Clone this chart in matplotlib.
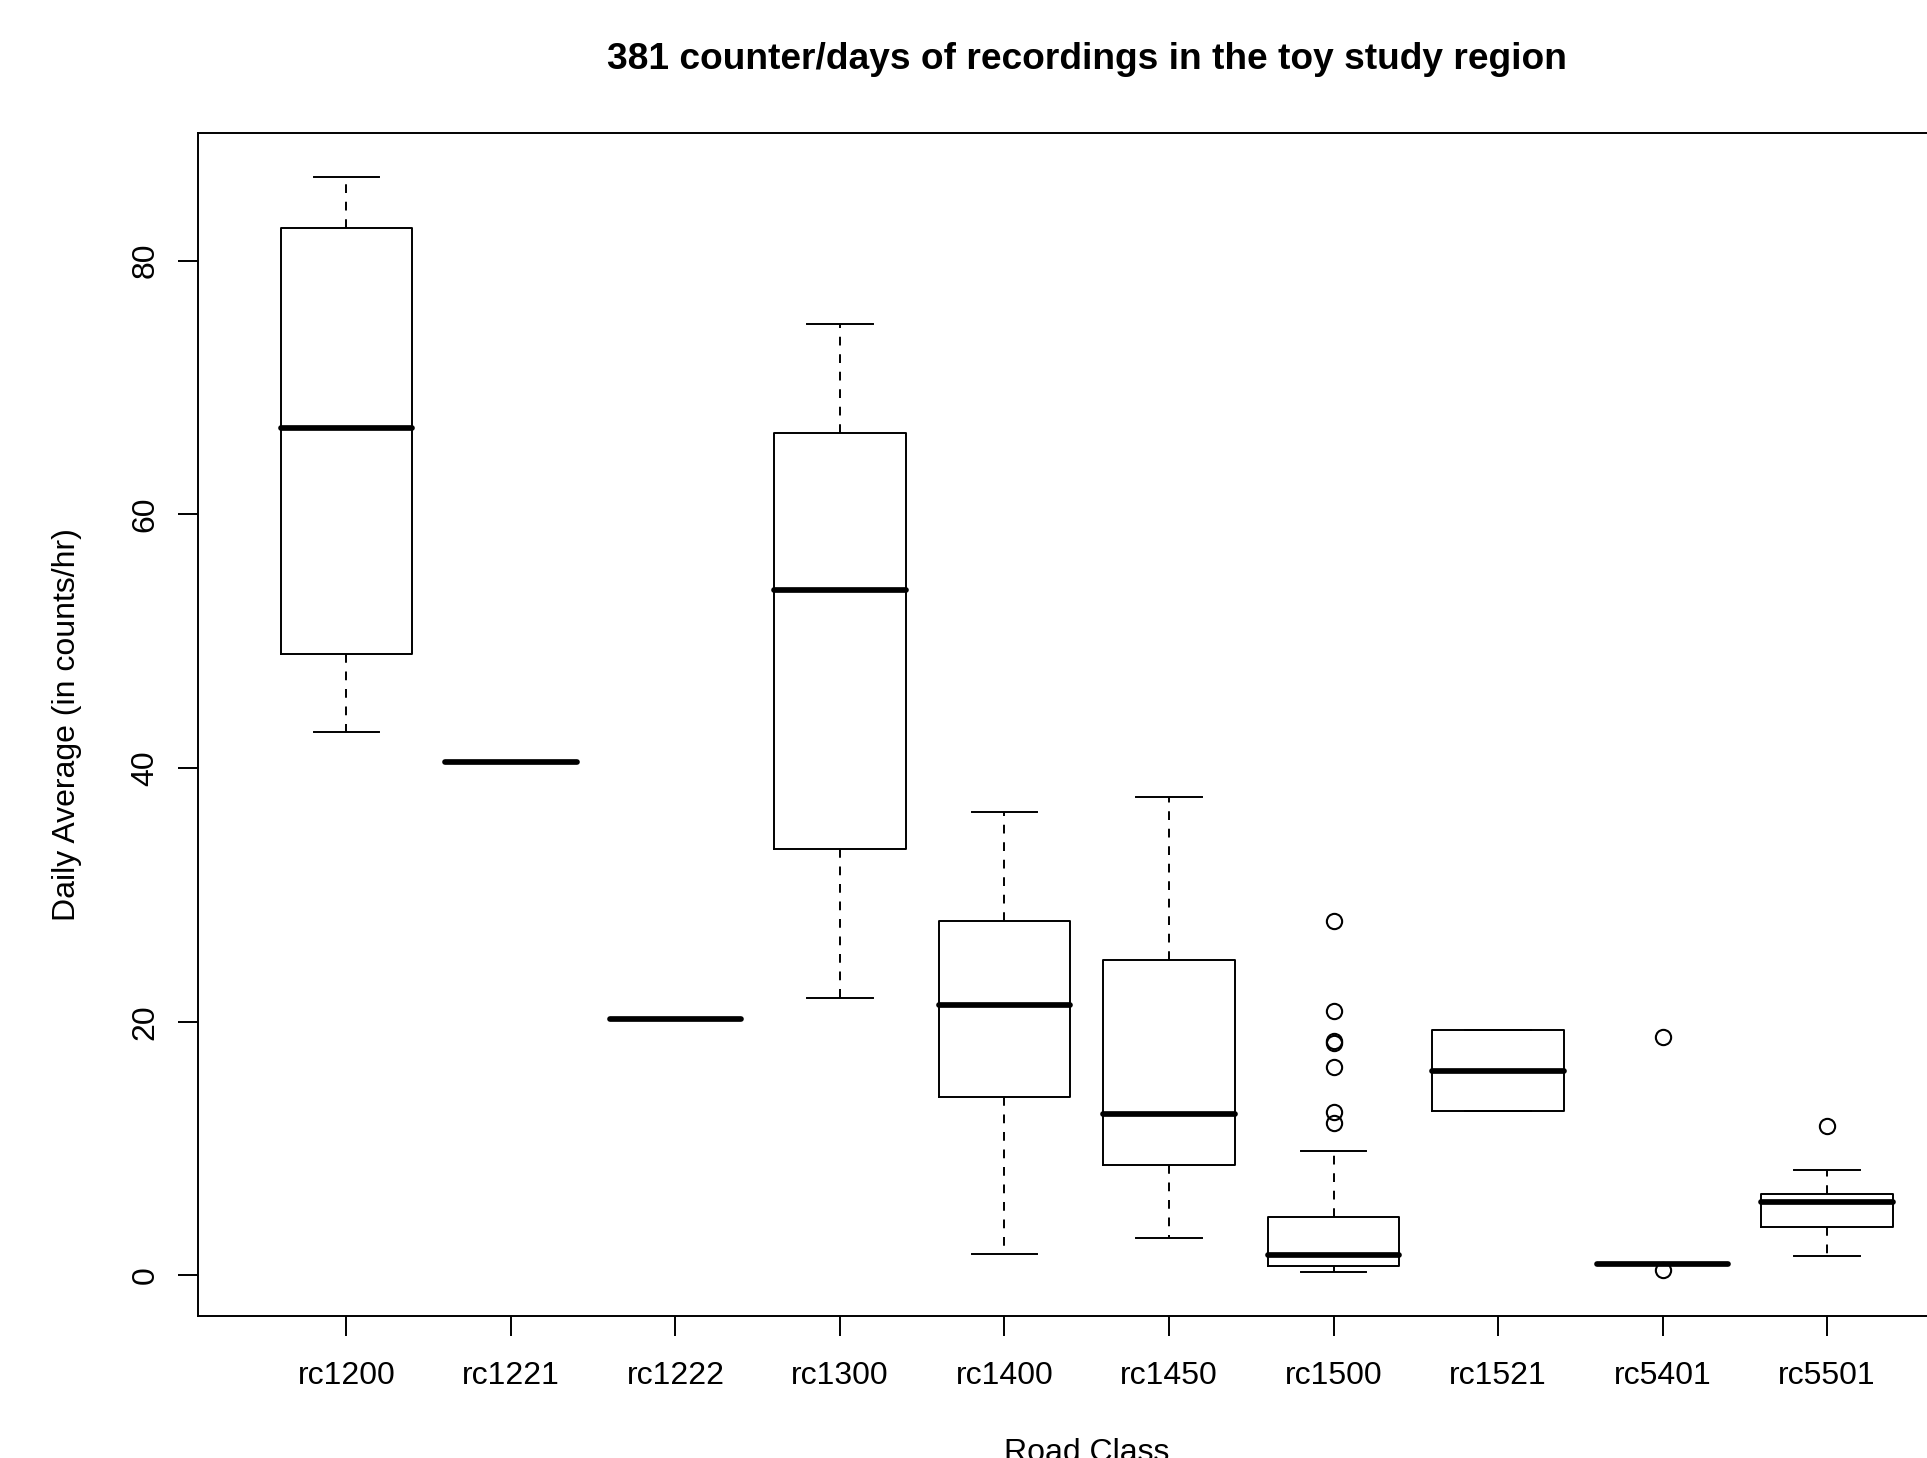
import numpy as np
import matplotlib
matplotlib.use('Agg')
import matplotlib.pyplot as plt

plt.rcParams['font.family'] = ['Liberation Sans', 'DejaVu Sans']

# ---- data ----
categories = ['rc1200', 'rc1221', 'rc1222', 'rc1300', 'rc1400',
              'rc1450', 'rc1500', 'rc1521', 'rc5401', 'rc5501']
whisker_low = [42.8, 40.5, 20.24, 21.9, 1.65, 2.95, 0.27, 12.95, 0.9, 1.56]
q1 = [49.0, 40.5, 20.24, 33.6, 14.1, 8.7, 0.72, 12.95, 0.9, 3.82]
median = [66.8, 40.5, 20.24, 54.0, 21.3, 12.7, 1.62, 16.15, 0.9, 5.78]
q3 = [82.6, 40.5, 20.24, 66.4, 27.9, 24.9, 4.64, 19.35, 0.9, 6.45]
whisker_high = [86.6, 40.5, 20.24, 74.96, 36.5, 37.7, 9.8, 19.35, 0.9, 8.34]
outliers = [[], [], [], [], [], [],
            [27.96, 20.83, 18.5, 18.3, 16.4, 12.92, 11.99],
            [], [18.8, 0.46], [11.75]]
yticks = [0, 20, 40, 60, 80]

title = '381 counter/days of recordings in the toy study region'
xlabel = 'Road Class'
ylabel = 'Daily Average (in counts/hr)'

# ---- figure ----
fig = plt.figure(figsize=(19.27, 14.58), dpi=100)
ax = fig.add_axes([0.10296, 0.09753, 0.92200, 0.81125])

stats = []
for i, c in enumerate(categories):
    stats.append(dict(label=c, whislo=whisker_low[i], q1=q1[i], med=median[i],
                      q3=q3[i], whishi=whisker_high[i],
                      fliers=np.array(outliers[i], dtype=float)))

positions = np.arange(1, len(categories) + 1)
lw = 1.4
ax.bxp(stats, positions=positions, widths=0.8, capwidths=0.4,
       boxprops=dict(color='black', linewidth=lw),
       whiskerprops=dict(color='black', linewidth=lw, linestyle=(0, (4.5, 4.5))),
       capprops=dict(color='black', linewidth=lw),
       medianprops=dict(color='black', linewidth=4.1, solid_capstyle='round'),
       flierprops=dict(marker='o', markerfacecolor='none', markeredgecolor='black',
                       markersize=11, markeredgewidth=1.5, linestyle='none'),
       manage_ticks=False)

# R-style axis ranges (4% expansion)
xlo, xhi = positions[0] - 0.5, positions[-1] + 0.5
xpad = 0.04 * (xhi - xlo)
ax.set_xlim(xlo - xpad, xhi + xpad)
allvals = np.concatenate([whisker_low, whisker_high] + [np.array(o, float) for o in outliers])
ylo, yhi = allvals.min(), allvals.max()
ypad = 0.04 * (yhi - ylo)
ax.set_ylim(ylo - ypad, yhi + ypad)

ax.set_xticks(positions)
ax.set_xticklabels(categories)
ax.set_yticks(yticks)
ax.set_yticklabels([str(v) for v in yticks])

ax.tick_params(axis='both', direction='out', length=14.4, width=lw, labelsize=23, colors='black')
ax.tick_params(axis='x', pad=18.5)
ax.tick_params(axis='y', pad=13, labelrotation=90)
for lbl in ax.get_yticklabels():
    lbl.set_va('center')

for sp in ax.spines.values():
    sp.set_linewidth(lw)
    sp.set_color('black')

ax.text(0.5, 1.0545, title, transform=ax.transAxes, ha='center', va='baseline',
        fontsize=26.7, fontweight='bold')
ax.text(0.5, -0.1224, xlabel, transform=ax.transAxes, ha='center', va='baseline',
        fontsize=23)
ax.text(-0.0695, 0.5, ylabel, transform=ax.transAxes, ha='center', va='baseline',
        rotation=90, rotation_mode='anchor', fontsize=23)

fig.savefig('out.png', dpi=100)
